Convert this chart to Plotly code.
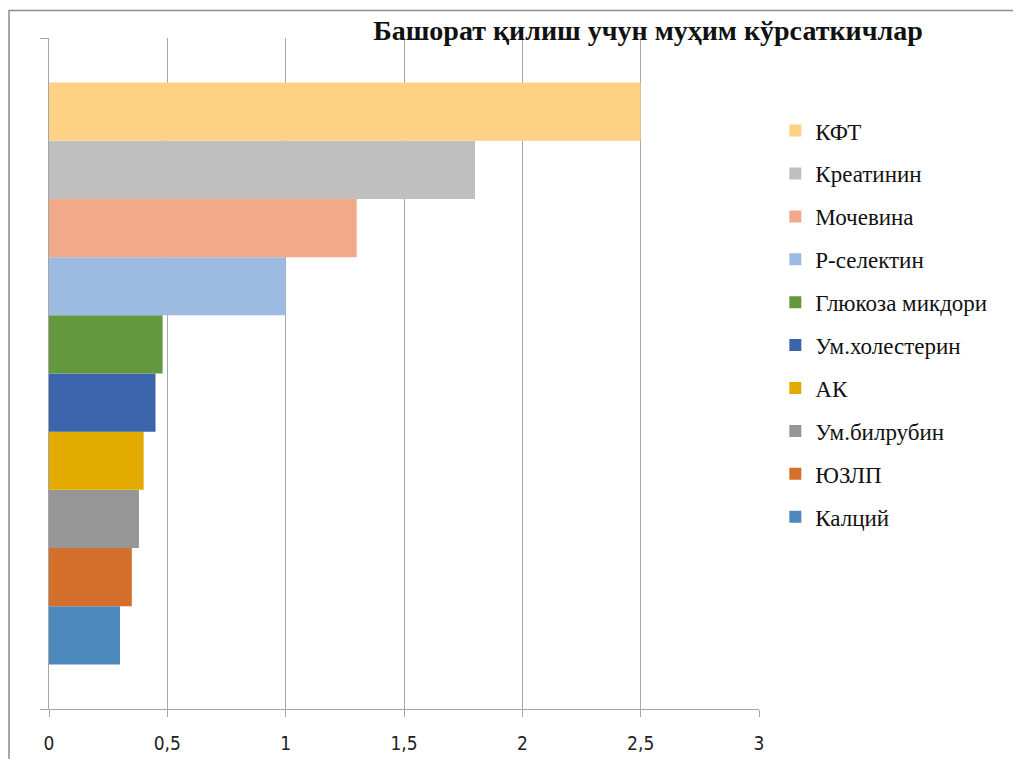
import plotly.graph_objects as go

# маълумотлар (пастдан юқорига)
names = ["Калций", "ЮЗЛП", "Ум.билрубин", "АК", "Ум.холестерин",
         "Глюкоза микдори", "Р-селектин", "Мочевина", "Креатинин", "КФТ"]
values = [0.30, 0.35, 0.38, 0.40, 0.45, 0.48, 1.00, 1.30, 1.80, 2.50]
colors = ["#4E89BE", "#D4702C", "#969696", "#E3AB00", "#3B64AD",
          "#63983F", "#9DBBE1", "#F1A98A", "#BFBFBF", "#FED185"]
category = ["индекс"]
title_text = "Башорат қилиш учун муҳим кўрсаткичлар"

fig = go.Figure()
for i, (n, v, c) in enumerate(zip(names, values, colors)):
    fig.add_trace(go.Bar(
        y=category, x=[v], name=n, orientation="h",
        marker=dict(color=c, line=dict(width=0)),
        legendgroup=n,
        legendrank=len(names) - i,
    ))

# саҳифа body margin 8px, шунинг учун ўлчамлар 8px га кичрайтирилган
fig.update_layout(
    width=1005, height=751,
    autosize=False,
    paper_bgcolor="white",
    plot_bgcolor="white",
    barmode="group",
    bargap=0.133,
    bargroupgap=0,
    separators=", ",
    margin=dict(l=41, r=254, t=30, b=50),
    title=dict(
        text="<b>" + title_text + "</b>",
        x=(648 - 8) / 1005, xanchor="center", xref="container",
        y=1 - (30 - 8) / 751, yanchor="middle", yref="container",
        font=dict(family="Liberation Serif", size=28, color="#111111"),
    ),
    legend=dict(
        x=1.023, xanchor="left", y=0.894, yanchor="top",
        traceorder="grouped",
        tracegroupgap=10,
        font=dict(family="Liberation Serif", size=23, color="#111111"),
        itemwidth=30,
        bgcolor="rgba(0,0,0,0)",
    ),
    xaxis=dict(
        range=[0, 3], dtick=0.5, tick0=0,
        showgrid=True, gridcolor="#A6A6A6", gridwidth=1,
        showline=True, linecolor="#A6A6A6", linewidth=1,
        ticks="outside", ticklen=7, tickcolor="#A6A6A6",
        zeroline=False,
        automargin=False,
        ticklabelstandoff=10,
        tickfont=dict(family="DejaVu Sans Condensed, Open Sans", size=19, color="#222222"),
        fixedrange=True,
    ),
    yaxis=dict(
        showticklabels=False,
        showline=True, linecolor="#A6A6A6", linewidth=1,
        ticks="outside", ticklen=8, tickcolor="#A6A6A6",
        tickson="boundaries",
        showgrid=False,
        automargin=False,
        fixedrange=True,
    ),
    shapes=[dict(
        type="rect", xref="paper", yref="paper",
        x0=-40 / 710, x1=1.5, y0=-0.5, y1=1 + 27.5 / 671,
        line=dict(color="#8C8C8C", width=1.5), layer="below",
    )],
)

fig.write_html("out.html")
